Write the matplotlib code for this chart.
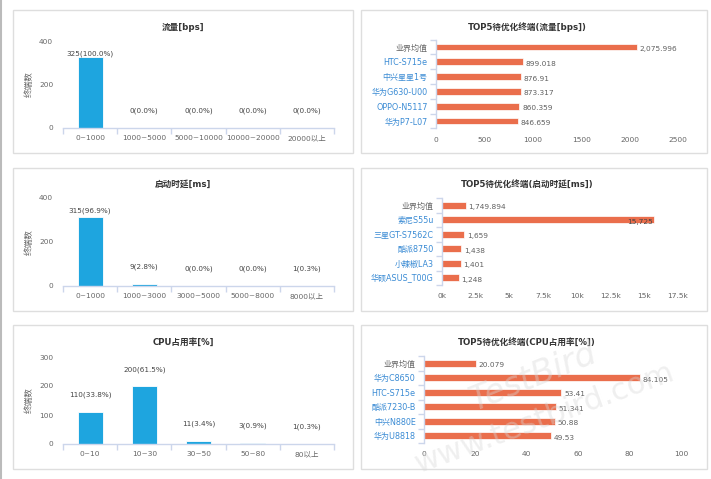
import matplotlib
matplotlib.use("Agg")
import matplotlib.pyplot as plt
from matplotlib.patches import Rectangle
import numpy as np

plt.rcParams["font.family"] = ["DejaVu Sans", "Noto Sans CJK SC"]

# ---- data ----
flow_cats = ["0~1000", "1000~5000", "5000~10000", "10000~20000", "20000以上"]
flow_counts = [325, 0, 0, 0, 0]
flow_pcts = [100.0, 0.0, 0.0, 0.0, 0.0]

delay_cats = ["0~1000", "1000~3000", "3000~5000", "5000~8000", "8000以上"]
delay_counts = [315, 9, 0, 0, 1]
delay_pcts = [96.9, 2.8, 0.0, 0.0, 0.3]

cpu_cats = ["0~10", "10~30", "30~50", "50~80", "80以上"]
cpu_counts = [110, 200, 11, 3, 1]
cpu_pcts = [33.8, 61.5, 3.4, 0.9, 0.3]

flow_top_names = ["业界均值", "HTC-S715e", "中兴星星1号", "华为G630-U00", "OPPO-N5117", "华为P7-L07"]
flow_top_vals = [2075.996, 899.018, 876.91, 873.317, 860.359, 846.659]

delay_top_names = ["业界均值", "索尼S55u", "三星GT-S7562C", "酷派8750", "小辣椒LA3", "华硕ASUS_T00G"]
delay_top_vals = [1749.894, 15725, 1659, 1438, 1401, 1248]

cpu_top_names = ["业界均值", "华为C8650", "HTC-S715e", "酷派7230-B", "中兴N880E", "华为U8818"]
cpu_top_vals = [20.079, 84.105, 53.41, 51.341, 50.88, 49.53]

BLUE = "#1ea5df"
ORANGE = "#ea6e4c"
AXIS = "#ccd6eb"
TXT = "#666666"
LINK = "#3a8bd4"

W, H = 711, 479
fig = plt.figure(figsize=(W / 100, H / 100), dpi=100)
fig.patch.set_facecolor("white")


def px_axes(x0, y0, x1, y1):
    return fig.add_axes([x0 / W, 1 - y1 / H, (x1 - x0) / W, (y1 - y0) / H])


def panel(x0, y0, x1, y1):
    fig.patches.append(Rectangle((x0 / W, 1 - y1 / H), (x1 - x0) / W, (y1 - y0) / H,
                                 transform=fig.transFigure, fill=False,
                                 edgecolor="#dedede", linewidth=1.0))


def fmt(v):
    return f"{v:,.3f}".rstrip("0").rstrip(".")


def column_chart(rect, title, title_y, cats, counts, pcts, ymax, ystep):
    x0, y0, x1, y1 = rect
    ax = px_axes(x0, y0, x1, y1)
    x = np.arange(len(cats))
    ax.bar(x, counts, width=0.46, color=BLUE, edgecolor="white", linewidth=0.6)
    ax.set_xlim(-0.5, len(cats) - 0.5)
    ax.set_ylim(0, ymax)
    ax.set_yticks(range(0, ymax + 1, ystep))
    for s in ["top", "right", "left"]:
        ax.spines[s].set_visible(False)
    ax.spines["bottom"].set_color(AXIS)
    ax.spines["bottom"].set_linewidth(1.0)
    ax.set_xticks(x)
    ax.set_xticklabels(cats)
    ax.set_xticks(np.arange(len(cats) + 1) - 0.5, minor=True)
    ax.tick_params(axis="x", which="major", length=0, pad=5, labelsize=5.4, colors=TXT)
    ax.tick_params(axis="x", which="minor", length=4, color=AXIS, width=1)
    ax.tick_params(axis="y", length=0, pad=7, labelsize=5.3, colors=TXT)
    h_px = y1 - y0
    for i, (c, p) in enumerate(zip(counts, pcts)):
        yf = min(c / ymax + 17 / h_px, 1 - 13 / h_px)
        ax.text(i, yf, f"{c}({p:.1f}%)", transform=ax.get_xaxis_transform(),
                ha="center", va="center", fontsize=5.2, color="#444444")
    fig.text((x0 - 34) / W, 1 - (y0 + y1) / 2 / H, "终端数", rotation=90,
             ha="center", va="center", fontsize=6.2, color=TXT)
    fig.text(183 / W, 1 - title_y / H, title, ha="center", va="center",
             fontsize=6.2, fontweight="bold", color="#333333")
    return ax


def bar_chart(rect, title, title_y, names, vals, xmax, xstep, kfmt=False):
    x0, y0, x1, y1 = rect
    ax = px_axes(x0, y0, x1, y1)
    y = np.arange(len(names))
    ax.barh(y, vals, height=0.45, color=ORANGE, edgecolor="white", linewidth=0.5)
    ax.set_ylim(len(names) - 0.5, -0.5)
    ax.set_xlim(0, xmax)
    ticks = np.arange(0, xmax + xstep / 2, xstep)
    ax.set_xticks(ticks)
    if kfmt:
        ax.set_xticklabels([f"{t / 1000:g}k" for t in ticks])
    for s in ["top", "right", "bottom"]:
        ax.spines[s].set_visible(False)
    ax.spines["left"].set_color(AXIS)
    ax.spines["left"].set_linewidth(1.0)
    ax.set_yticks(y)
    ax.set_yticklabels(names)
    ax.set_yticks(np.arange(len(names) + 1) - 0.5, minor=True)
    ax.tick_params(axis="y", which="major", length=0, pad=6, labelsize=5.8)
    ax.tick_params(axis="y", which="minor", length=4, color=AXIS, width=1)
    ax.tick_params(axis="x", length=0, pad=6, labelsize=5.4, colors=TXT)
    for i, lab in enumerate(ax.get_yticklabels()):
        lab.set_color(TXT if i == 0 else LINK)
    for i, v in enumerate(vals):
        if v / xmax > 0.87:
            ax.annotate(fmt(v), (v, i), xytext=(-1, -1.5), textcoords="offset points",
                        ha="right", va="center", fontsize=5.3, color="#444444")
        else:
            ax.annotate(fmt(v), (v, i), xytext=(2, -1.5), textcoords="offset points",
                        ha="left", va="center", fontsize=5.3, color="#606060")
    fig.text(527 / W, 1 - title_y / H, title, ha="center", va="center",
             fontsize=6.2, fontweight="bold", color="#333333")
    return ax


# panel frames
for (py0, py1) in [(10, 153), (168, 311), (325, 469)]:
    panel(13, py0, 353, py1)
    panel(361, py0, 707, py1)

# page edge line at far left
fig.lines.append(plt.Line2D([1.5 / W, 1.5 / W], [0, 1], transform=fig.transFigure,
                            color="#bbbbbb", linewidth=1.5))

column_chart((63, 41, 334, 128), "流量[bps]", 27,
             flow_cats, flow_counts, flow_pcts, 400, 200)
column_chart((63, 198, 334, 286), "启动时延[ms]", 184,
             delay_cats, delay_counts, delay_pcts, 400, 200)
column_chart((63, 357, 334, 444), "CPU占用率[%]", 342,
             cpu_cats, cpu_counts, cpu_pcts, 300, 100)

bar_chart((436, 39.6, 678, 128.4), "TOP5待优化终端(流量[bps])", 27,
          flow_top_names, flow_top_vals, 2500, 500)
bar_chart((442, 198, 678, 285), "TOP5待优化终端(启动时延[ms])", 184,
          delay_top_names, delay_top_vals, 17500, 2500, kfmt=True)
bar_chart((424, 356, 681, 443), "TOP5待优化终端(CPU占用率[%])", 342,
          cpu_top_names, cpu_top_vals, 100, 20)

# faint watermark
fig.text(533 / W, 1 - 377 / H, "TestBird", rotation=22, ha="center", va="center",
         fontsize=24, style="italic", color="#d8d8d8", alpha=0.4, zorder=10)
fig.text(545 / W, 1 - 418 / H, "www.testbird.com", rotation=20, ha="center", va="center",
         fontsize=22, color="#d8d8d8", alpha=0.4, zorder=10)

fig.savefig("out.png", dpi=100, facecolor="white")
